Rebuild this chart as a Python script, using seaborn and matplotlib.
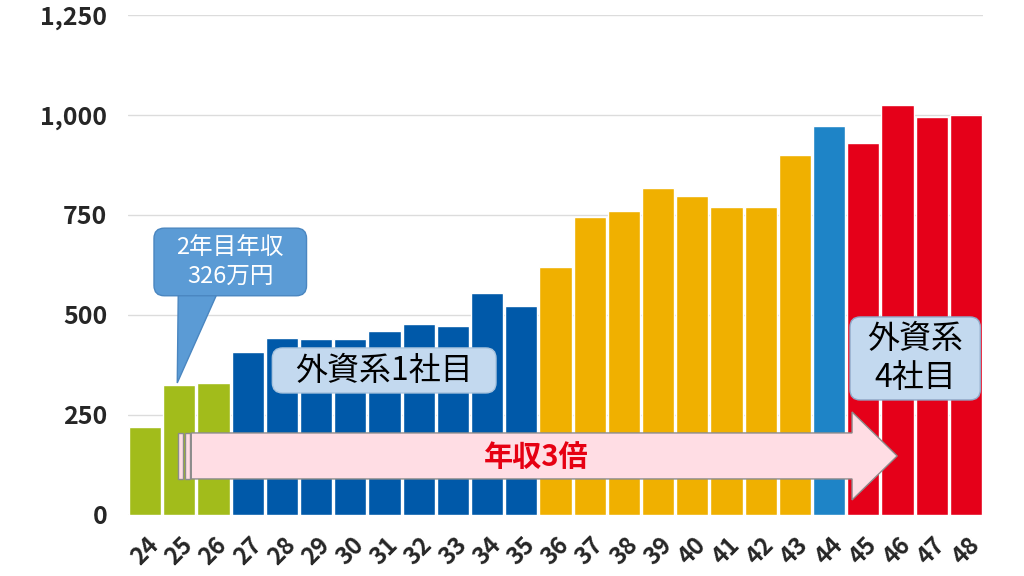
import matplotlib
matplotlib.use('Agg')
import matplotlib.pyplot as plt
import matplotlib.patches as mpatches
import seaborn as sns
import pandas as pd

# 年齢別の年収（万円）
ages = [str(a) for a in range(24, 49)]
income = [220, 326, 330, 407, 442, 440, 440, 460, 477, 472, 555, 522,
          620, 745, 760, 817, 798, 770, 770, 900, 972, 930, 1025, 995, 1000]
phase = (['新卒'] * 3 + ['外資系1社目'] * 9 + ['国内'] * 8 +
         ['外資系3社目'] * 1 + ['外資系4社目'] * 4)
phase_colors = {'新卒': '#A2BC1B', '外資系1社目': '#0059A9', '国内': '#F0B000',
                '外資系3社目': '#1E84C7', '外資系4社目': '#E50019'}
yticks = [0, 250, 500, 750, 1000, 1250]

df = pd.DataFrame({'age': ages, 'income': income, 'phase': phase})

sns.set_theme(style='white')
plt.rcParams['font.family'] = ['Noto Sans CJK JP', 'DejaVu Sans']

fig = plt.figure(figsize=(10.24, 5.76), dpi=100)
ax = fig.add_axes([0.125, 0.106, 0.835, 0.868])

sns.barplot(data=df, x='age', y='income', hue='phase', palette=phase_colors,
            dodge=False, width=0.94, legend=False, saturation=1, ax=ax)

ax.set_xlim(-0.5, len(ages) - 0.5)
ax.set_ylim(0, 1250)
ax.set_yticks(yticks)
ax.set_yticklabels([f'{v:,}' for v in yticks], fontsize=18, fontweight='bold')
ax.set_xticks(range(len(ages)))
ax.set_xticklabels(ages, rotation=45, fontsize=17, fontweight='bold')
ax.tick_params(axis='y', length=0, pad=15)
ax.tick_params(axis='x', length=0, pad=13)
ax.set_xlabel('')
ax.set_ylabel('')
ax.yaxis.grid(True, color='#DCDCDC', linewidth=1)
ax.set_axisbelow(True)
for s in ax.spines.values():
    s.set_visible(False)

aspect = 34.2 / 0.4  # px per x unit / px per y unit

# 年収3倍の矢印
for x0 in (0.97, 1.17):
    ax.add_patch(mpatches.Rectangle((x0, 90), 0.15, 115, facecolor='#FFDDE4',
                                    edgecolor='#8C8C8C', lw=1, zorder=4))
ax.add_patch(mpatches.FancyArrow(1.35, 147.5, 20.64, 0, width=115, head_width=220,
                                 head_length=1.32, length_includes_head=True,
                                 facecolor='#FFDDE4', edgecolor='#8C8C8C', lw=1, zorder=4))
ax.text(11.44, 145, '年収3倍', color='#E60012', fontsize=21, fontweight='bold',
        ha='center', va='center', zorder=6)

# 吹き出し
ax.add_patch(mpatches.Polygon([(0.97, 560), (2.14, 560), (0.94, 330)], closed=True,
                              facecolor='#5B9BD5', edgecolor='#4A86C0', lw=1, zorder=5))
ax.add_patch(mpatches.FancyBboxPatch((0.26, 548), 4.46, 169,
                                     boxstyle='round,pad=0,rounding_size=0.3',
                                     mutation_aspect=aspect, facecolor='#5B9BD5',
                                     edgecolor='#4A86C0', lw=1, zorder=5))
ax.text(2.49, 632, '2年目年収\n326万円', color='white', fontsize=17, linespacing=1.3,
        ha='center', va='center', zorder=6)

# 会社ラベル
ax.add_patch(mpatches.FancyBboxPatch((3.72, 305), 6.54, 112.5,
                                     boxstyle='round,pad=0,rounding_size=0.3',
                                     mutation_aspect=aspect, facecolor='#C3D9EF',
                                     edgecolor='#A9C4DE', lw=1, zorder=5))
ax.text(6.99, 361, '外資系1社目', color='black', fontsize=23,
        ha='center', va='center', zorder=6)

ax.add_patch(mpatches.FancyBboxPatch((20.61, 287.5), 3.81, 207.5,
                                     boxstyle='round,pad=0,rounding_size=0.3',
                                     mutation_aspect=aspect, facecolor='#C3D9EF',
                                     edgecolor='#8FA9C8', lw=1, zorder=5))
ax.text(22.52, 391, '外資系\n4社目', color='black', fontsize=23, linespacing=1.25,
        ha='center', va='center', zorder=6)

fig.savefig('out.png', dpi=100)
